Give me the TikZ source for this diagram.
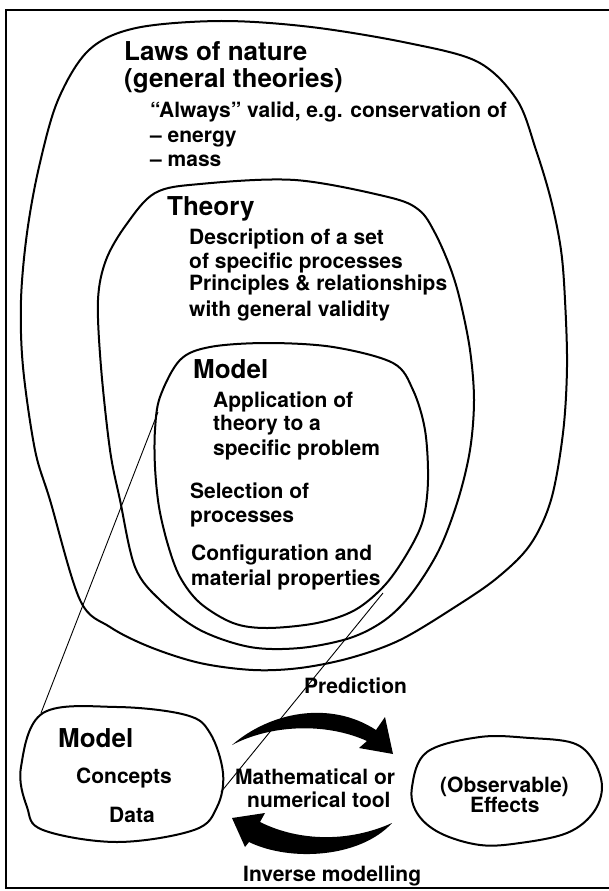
\documentclass[tikz,border=0pt]{standalone}
\usepackage{fontspec}
\setmainfont{TeX Gyre Heros}
\tikzset{
  blob/.style={line width=2pt, line join=round},
  zoomline/.style={line width=0.9pt},
  title/.style={anchor=base west, inner sep=0pt, font=\fontsize{26}{28}\selectfont\bfseries},
  body/.style={anchor=base west, inner sep=0pt, font=\fontsize{21}{24}\selectfont\bfseries},
}

\begin{document}
\begin{tikzpicture}[x=1pt, y=-1pt]
	\useasboundingbox (0,0) rectangle (609,891);
	
	% frame
	\draw[line width=2pt] (609,10) -- (6,10) -- (6,888) -- (609,888);
	
	% laws of nature
	\draw[blob] plot[smooth cycle, tension=0.55] coordinates {
		(221,21) (311,27) (408,43) (478,62) (517,100) (536,150) (551,200)
		(561,250) (565,300) (567,367) (563,433) (551,500) (530,545) (497,578)
		(455,607) (400,640) (350,658) (300,668) (253,670) (200,663) (150,647)
		(110,627) (80,600) (50,500) (35,450) (23,367) (21,300) (27,233)
		(39,167) (58,100) (89,50) (136,28)};
	\node[title] (laws1) at (124,61) {Laws of nature};
	\node[title] (laws2) at (124,88) {(general theories)};
	\node[body] (laws3) at (150,117) {“Always” valid, e.g. conservation of};
	\node[body] (laws4) at (150,142) {– energy};
	\node[body] (laws5) at (150,166) {– mass};
	
	% theory
	\draw[blob] plot[smooth cycle, tension=0.55] coordinates {
		(295,180) (388,197) (419,210) (435,233) (450,267) (460,300) (470,350)
		(474,400) (470,450) (458,500) (439,550) (412,593) (385,620) (350,638)
		(300,648) (250,647) (200,630) (160,600) (135,567) (120,500) (110,450)
		(101,367) (98,300) (106,260) (126,225) (155,193) (200,184)};
	\node[title] (theo1) at (167,215) {Theory};
	\node[body] (theo2) at (189,244) {Description of a set};
	\node[body] (theo3) at (189,268) {of specific processes};
	\node[body] (theo4) at (189,290) {Principles \& relationships};
	\node[body] (theo5) at (189,316) {with general validity};
	
	% model
	\draw[blob] plot[smooth cycle, tension=0.55] coordinates {
		(267,343) (333,347) (393,363) (413,390) (425,430) (428,480) (423,520)
		(408,552) (385,585) (355,610) (317,623) (267,628) (233,623) (200,603)
		(180,577) (168,545) (159,507) (155,467) (155,430) (160,397) (180,360)
		(210,347)};
	\node[title] (mod1) at (193,378) {Model};
	\node[body] (mod2) at (213,407) {Application of};
	\node[body] (mod3) at (213,430) {theory to a};
	\node[body] (mod4) at (213,455) {specific problem};
	\node[body] (mod5) at (190,498) {Selection of};
	\node[body] (mod6) at (190,522) {processes};
	\node[body] (mod7) at (191,560) {Configuration and};
	\node[body] (mod8) at (191,585) {material properties};
	
	% small model and effects
	\draw[blob] plot[smooth cycle, tension=0.6] coordinates {
		(43,713) (117,707) (186,715) (210,733) (223,773) (217,807) (194,830)
		(117,842) (43,830) (27,807) (21,767)};
	\node[title] (small1) at (58,747) {Model};
	\node[body] (small2) at (76,783) {Concepts};
	\node[body] (small3) at (109,822) {Data};
	
	\draw[blob] plot[smooth cycle, tension=0.6] coordinates {
		(427,752) (480,737) (530,738) (573,743) (593,760) (602,787) (593,813)
		(567,833) (520,843) (480,845) (440,833) (417,813) (412,787)};
	\node[body] (eff1) at (440,792) {(Observable)};
	\node[body] (eff2) at (470,812) {Effects};
	
	% zoom lines
	\coordinate (zoomA) at (158,412);
	\coordinate (zoomB) at (41,713);
	\coordinate (zoomC) at (383,593);
	\coordinate (zoomD) at (221,792);
	\draw[zoomline] (zoomA) -- (zoomB);
	\draw[zoomline] (zoomC) -- (zoomD);
	
	% arrows
	\fill (232,745) .. controls (270,712) and (330,700) .. (376,730) -- (385,717)
		-- (393,754) -- (359,748) -- (367,741) .. controls (325,722) and (270,725) .. cycle;
	\fill (232,818) -- (265,813) -- (260,822) .. controls (300,842) and (350,842) .. (392,823)
		.. controls (360,858) and (290,862) .. (249,842) -- (245,847) -- cycle;
	
	\node[body] (pred) at (304,693) {Prediction};
	\node[body] (tool1) at (235,784) {Mathematical or};
	\node[body] (tool2) at (247,807) {numerical tool};
	\node[body] (inv) at (243,881) {Inverse modelling};
\end{tikzpicture}
\end{document}
